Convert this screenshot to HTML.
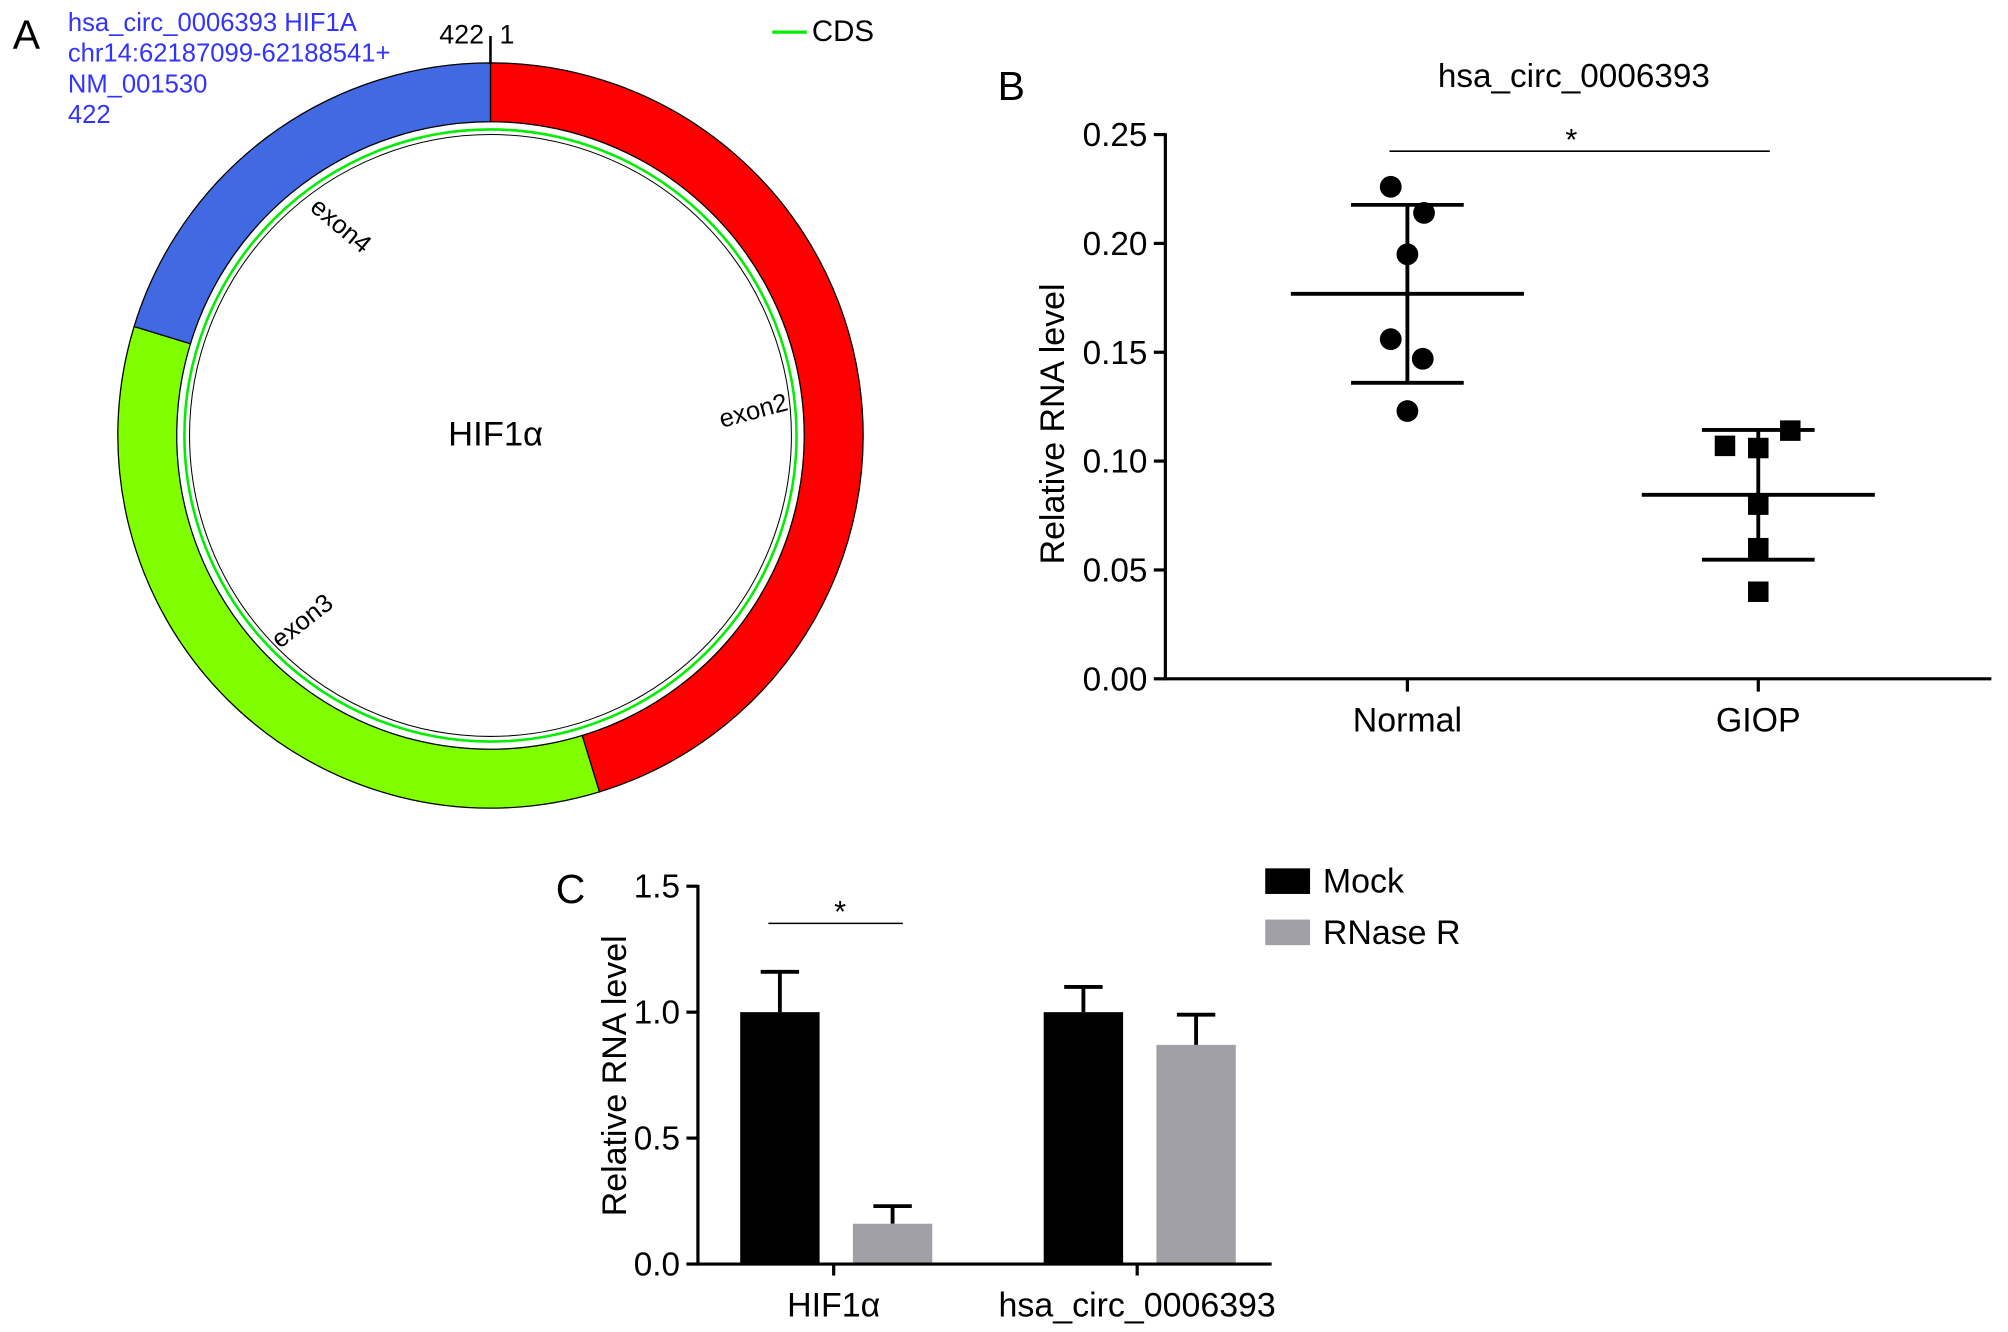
<!DOCTYPE html>
<html><head><meta charset="utf-8"><style>
html,body{margin:0;padding:0;background:#fff;}
svg{display:block;font-family:"Liberation Sans",Arial,sans-serif;}
</style></head><body>
<svg id="fig" width="2008" height="1332" viewBox="0 0 1568 1040" xmlns="http://www.w3.org/2000/svg">
<g id="pa"></g>
<g id="pb"></g>
<g id="pc"></g>
</svg>
<script>
// ---- Panel A data ----
const exonNames = ["exon2","exon3","exon4"];
const exonStartDeg = [0,163,287];
const exonEndDeg = [163,287,360];
const exonColors = ["#ff0000","#7fff00","#4169e1"];
// ---- Panel B data ----
const bCategories = ["Normal","GIOP"];
const bNormal = [0.226,0.214,0.195,0.156,0.147,0.123];
const bGIOP = [0.114,0.107,0.106,0.080,0.060,0.040];
const bNormalX = [-13,13,0,-13,12,0];
const bGIOPX = [25,-26,0,0,0,0];
const bTicks = ["0.00","0.05","0.10","0.15","0.20","0.25"];
// ---- Panel C data ----
const cGroups = ["HIF1\u03b1","hsa_circ_0006393"];
const cMock = [1.0,1.0];
const cMockErr = [0.16,0.10];
const cRNase = [0.16,0.87];
const cRNaseErr = [0.07,0.12];
const cTicks = ["0.0","0.5","1.0","1.5"];

const NS="http://www.w3.org/2000/svg";
function mk(parent,tag,attrs,text){const e=document.createElementNS(NS,tag);for(const k in attrs)e.setAttribute(k,attrs[k]);if(text!==undefined)e.textContent=text;parent.appendChild(e);return e;}

// ---- Panel A ----
const pa=document.getElementById('pa');
const cx=383,cy=340,R1=291,R0=245;
function pt(r,deg){const a=deg*Math.PI/180;return [cx+r*Math.sin(a),cy-r*Math.cos(a)];}
exonNames.forEach((n,i)=>{
  const a0=exonStartDeg[i],a1=exonEndDeg[i];const large=(a1-a0)>180?1:0;
  const p1=pt(R1,a0),p2=pt(R1,a1),p3=pt(R0,a1),p4=pt(R0,a0);
  const e=mk(pa,'path',{d:`M${p1} A${R1} ${R1} 0 ${large} 1 ${p2} L${p3} A${R0} ${R0} 0 ${large} 0 ${p4} Z`,fill:exonColors[i],stroke:'#000','stroke-width':1});
  
  
});
let c1=mk(pa,'circle',{cx:cx,cy:cy,r:239,fill:'none',stroke:'#00ee00','stroke-width':2});

let c2=mk(pa,'circle',{cx:cx,cy:cy,r:235,fill:'none',stroke:'#000','stroke-width':0.8});

mk(pa,'line',{x1:383,y1:28,x2:383,y2:50,stroke:'#000','stroke-width':2});
let t;
t=mk(pa,'text',{x:10,y:38,'font-size':32},'A');
t=mk(pa,'text',{x:378,y:34,'font-size':21,'text-anchor':'end'},'422');
t=mk(pa,'text',{x:390,y:34,'font-size':21},'1');
const info=["hsa_circ_0006393 HIF1A","chr14:62187099-62188541+","NM_001530","422"];
info.forEach((s,i)=>{t=mk(pa,'text',{x:53,y:24+i*24,'font-size':20,fill:'#3333ff'},s);});
mk(pa,'line',{x1:603,y1:25,x2:630,y2:25,stroke:'#00ee00','stroke-width':2.5});
t=mk(pa,'text',{x:634,y:32,'font-size':23},'CDS');
t=mk(pa,'text',{x:387,y:348,'font-size':27,'text-anchor':'middle'},'HIF1\u03b1');
const exLab=[[590,327,-15],[240,490,-38],[262,181,40]];
exonNames.forEach((n,i)=>{const [x,y,r]=exLab[i];t=mk(pa,'text',{x:x,y:y,'font-size':20,'text-anchor':'middle',transform:`rotate(${r} ${x} ${y})`},n);});

// ---- Panel B ----
const pb=document.getElementById('pb');
const bx0=910,by0=530,byScale=1700;
const bY=v=>by0-v*byScale;
const bX=i=>[1099,1373][i];
t=mk(pb,'text',{x:779,y:78,'font-size':32},'B');
t=mk(pb,'text',{x:1229,y:68,'font-size':26,'text-anchor':'middle'},'hsa_circ_0006393');
mk(pb,'line',{x1:bx0,y1:bY(0.25)-1,x2:bx0,y2:by0+1,stroke:'#000','stroke-width':2.5});
mk(pb,'line',{x1:bx0-1,y1:by0,x2:1555,y2:by0,stroke:'#000','stroke-width':2.5});
bTicks.forEach(s=>{const v=parseFloat(s);mk(pb,'line',{x1:bx0-9,y1:bY(v),x2:bx0,y2:bY(v),stroke:'#000','stroke-width':2.5});
 t=mk(pb,'text',{x:bx0-14,y:bY(v)+9,'font-size':26,'text-anchor':'end'},s);});
bCategories.forEach((c,i)=>{mk(pb,'line',{x1:bX(i),y1:by0,x2:bX(i),y2:by0+10,stroke:'#000','stroke-width':2.5});
 t=mk(pb,'text',{x:bX(i),y:571,'font-size':26.5,'text-anchor':'middle'},c);});
t=mk(pb,'text',{x:831,y:331,'font-size':26.5,'text-anchor':'middle',transform:'rotate(-90 831 331)'},'Relative RNA level');
function stats(a){const m=a.reduce((s,v)=>s+v,0)/a.length;const sd=Math.sqrt(a.reduce((s,v)=>s+(v-m)*(v-m),0)/(a.length-1));return [m,sd];}
[bNormal,bGIOP].forEach((arr,i)=>{
  const [m,sd]=stats(arr);const x=bX(i);
  mk(pb,'line',{x1:x,y1:bY(m+sd),x2:x,y2:bY(m-sd),stroke:'#000','stroke-width':3});
  mk(pb,'line',{x1:x-91,y1:bY(m),x2:x+91,y2:bY(m),stroke:'#000','stroke-width':3});
  mk(pb,'line',{x1:x-44,y1:bY(m+sd),x2:x+44,y2:bY(m+sd),stroke:'#000','stroke-width':3});
  mk(pb,'line',{x1:x-44,y1:bY(m-sd),x2:x+44,y2:bY(m-sd),stroke:'#000','stroke-width':3});
  const offs=i===0?bNormalX:bGIOPX;
  arr.forEach((v,j)=>{let e;
    if(i===0){e=mk(pb,'circle',{cx:x+offs[j],cy:bY(v),r:8.5,fill:'#000'});}
    else{e=mk(pb,'rect',{x:x+offs[j]-8,y:bY(v)-8,width:16,height:16,fill:'#000'});}
    });
});
mk(pb,'line',{x1:1085,y1:118,x2:1382,y2:118,stroke:'#000','stroke-width':1.2});
t=mk(pb,'text',{x:1227,y:117,'font-size':24,'text-anchor':'middle'},'*');

// ---- Panel C ----
const pc=document.getElementById('pc');
const cx0=545,cy0=987,cyScale=196.7;
const cY=v=>cy0-v*cyScale;
const cG=i=>[651,888][i];
t=mk(pc,'text',{x:434,y:705,'font-size':32},'C');
cGroups.forEach((g,i)=>{
  const xm=cG(i)-73,xr=cG(i)+15,w=62;
  let e;
  mk(pc,'line',{x1:xm+w/2,y1:cY(cMock[i]),x2:xm+w/2,y2:cY(cMock[i]+cMockErr[i]),stroke:'#000','stroke-width':3});
  mk(pc,'line',{x1:xm+w/2-15,y1:cY(cMock[i]+cMockErr[i]),x2:xm+w/2+15,y2:cY(cMock[i]+cMockErr[i]),stroke:'#000','stroke-width':3});
  e=mk(pc,'rect',{x:xm,y:cY(cMock[i]),width:w,height:cMock[i]*cyScale,fill:'#000'});
  mk(pc,'line',{x1:xr+w/2,y1:cY(cRNase[i]),x2:xr+w/2,y2:cY(cRNase[i]+cRNaseErr[i]),stroke:'#000','stroke-width':3});
  mk(pc,'line',{x1:xr+w/2-15,y1:cY(cRNase[i]+cRNaseErr[i]),x2:xr+w/2+15,y2:cY(cRNase[i]+cRNaseErr[i]),stroke:'#000','stroke-width':3});
  e=mk(pc,'rect',{x:xr,y:cY(cRNase[i]),width:w,height:cRNase[i]*cyScale,fill:'#a0a0a6'});
  mk(pc,'line',{x1:cG(i),y1:cy0,x2:cG(i),y2:cy0+9,stroke:'#000','stroke-width':2.5});
  t=mk(pc,'text',{x:cG(i),y:1028,'font-size':26.5,'text-anchor':'middle'},g);
});
mk(pc,'line',{x1:cx0,y1:cY(1.5)-1,x2:cx0,y2:cy0+1,stroke:'#000','stroke-width':2.5});
mk(pc,'line',{x1:cx0-1,y1:cy0,x2:993,y2:cy0,stroke:'#000','stroke-width':2.5});
cTicks.forEach(s=>{const v=parseFloat(s);mk(pc,'line',{x1:cx0-9,y1:cY(v),x2:cx0,y2:cY(v),stroke:'#000','stroke-width':2.5});
 t=mk(pc,'text',{x:cx0-14,y:cY(v)+9,'font-size':26,'text-anchor':'end'},s);});
t=mk(pc,'text',{x:489,y:840,'font-size':26.5,'text-anchor':'middle',transform:'rotate(-90 489 840)'},'Relative RNA level');
mk(pc,'line',{x1:600,y1:721,x2:705,y2:721,stroke:'#000','stroke-width':1.2});
t=mk(pc,'text',{x:656,y:720,'font-size':24,'text-anchor':'middle'},'*');
let lg=mk(pc,'rect',{x:988,y:678,width:35,height:20,fill:'#000'});
t=mk(pc,'text',{x:1033,y:697,'font-size':26.5},'Mock');
lg=mk(pc,'rect',{x:988,y:718,width:35,height:20,fill:'#a0a0a6'});
t=mk(pc,'text',{x:1033,y:737,'font-size':26.5},'RNase R');
</script>
</body></html>
